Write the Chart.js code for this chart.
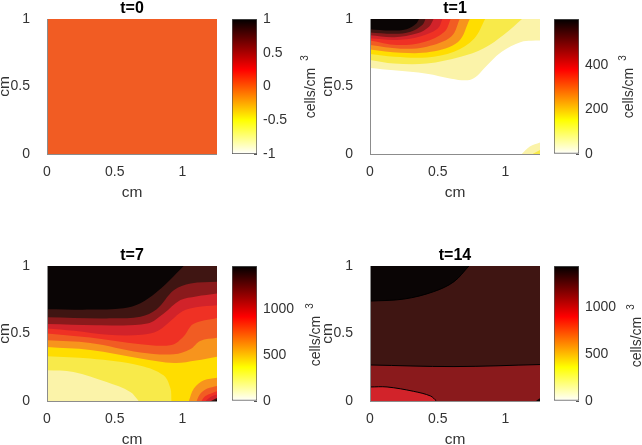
<!DOCTYPE html>
<html>
<head>
<meta charset="utf-8">
<script src="https://cdn.jsdelivr.net/npm/chart.js@4/dist/chart.umd.js"></script>
<style>
  html, body { margin: 0; padding: 0; background: #fff; overflow: hidden; }
  body { position: relative; width: 642px; height: 445px; }
  canvas { position: absolute; }
</style>
</head>
<body>
<script>
const xMax = 1.255;
const axisTicks = [0, 0.5, 1];

// contour levels, [x, y] in cm
const t0Flat = [[0, 0], [1.255, 0]];

const t1Pale = [[0, .637], [.176, .62], [.42, .595], [.6, .558], [.72, .546], [.78, .57], [.84, .632], [.97, .756], [1.115, .83], [1.19, .838], [1.255, .84]];
const t1Yellow = [[0, .696], [.176, .67], [.42, .67], [.67, .72], [.84, .783], [.99, .885], [1.122, 1]];
const t1Gold = [[0, .74], [.18, .72], [.42, .715], [.62, .757], [.77, .856], [.85, 1]];
const t1Orange = [[0, .775], [.226, .75], [.45, .757], [.65, .83], [.737, 1]];
const t1DarkOrange = [[0, .807], [.226, .78], [.42, .795], [.6, .87], [.663, 1]];
const t1Red = [[0, .84], [.2, .807], [.4, .83], [.55, .906], [.596, 1]];
const t1DarkRed = [[0, .857], [.2, .845], [.37, .87], [.5, .93], [.535, 1]];
const t1Maroon = [[0, .88], [.18, .865], [.35, .894], [.436, .943], [.47, 1]];
const t1Brown = [[0, .90], [.18, .89], [.3, .906], [.386, .955], [.41, 1]];
const t1Black = [[0, .925], [.15, .915], [.27, .925], [.34, .965], [.362, 1]];
const t1CornerPale = [[1.12, 0], [1.18, .055], [1.255, .085]];
const t1CornerYellow = [[1.2, 0], [1.255, .03]];

const t7Gold = [[0, 0], [1.255, 0]];
const t7Orange = [[0, .40], [.32, .378], [.69, .315], [.94, .281], [1.1, .30], [1.255, .328]];
const t7DarkOrange = [[0, .45], [.32, .43], [.69, .36], [.936, .346], [1.06, .385], [1.13, .445], [1.255, .468]];
const t7Red = [[0, .50], [.32, .47], [.69, .42], [.92, .415], [1.01, .48], [1.08, .57], [1.255, .615]];
const t7DarkRed = [[0, .537], [.2, .52], [.45, .49], [.7, .49], [.82, .52], [.92, .60], [1.0, .665], [1.1, .695], [1.255, .71]];
const t7Maroon = [[0, .57], [.39, .562], [.74, .574], [.862, .649], [.985, .748], [1.1, .775], [1.255, .797]];
const t7Brown = [[0, .62], [.44, .612], [.69, .625], [.81, .68], [.936, .82], [1.06, .87], [1.255, .883]];
const t7Black = [[0, .68], [.32, .677], [.565, .687], [.69, .725], [.81, .807], [.935, .925], [1.01, 1]];
const t7Yellow = [[0, .331], [.32, .314], [.69, .262], [.86, .19], [.912, .09], [.92, 0]];
const t7Pale = [[0, .227], [.195, .215], [.44, .14], [.615, .067], [.677, 0]];
const t7CornerOrange = [[1.047, 0], [1.084, .092], [1.158, .154], [1.255, .173]];
const t7CornerDarkOrange = [[1.104, 0], [1.133, .055], [1.183, .092], [1.255, .112]];
const t7CornerRed = [[1.139, 0], [1.17, .037], [1.255, .072]];
const t7CornerDarkRed = [[1.17, 0], [1.207, .03], [1.255, .048]];
const t7CornerBrown = [[1.21, 0], [1.255, .022]];
const t7CornerBlack = [[1.24, 0], [1.255, .012]];

const t14Base = [[0, 0], [1.255, 0]];
const t14Brown = [[0, .267], [.62, .255], [1.255, .27]];
const t14Black = [[0, .74], [.25, .755], [.47, .81], [.62, .884], [.73, 1]];
const t14Red = [[0, .104], [.126, .104], [.32, .072], [.447, .037], [.49, 0]];
const t14Corner = [[1.225, 0], [1.255, .02]];

// colorbar ranges and ticks
const t0Range = [-1, 1];
const t0Ticks = [-1, -0.5, 0, 0.5, 1];
const t1Range = [0, 606];
const t1Ticks = [0, 200, 400];
const t7Range = [0, 1474];
const t7Ticks = [0, 500, 1000];
const t14Range = [0, 1442];
const t14Ticks = [0, 500, 1000];

const colors = {
  pale: "#fbf3a9",
  yellow: "#f8ea4a",
  gold: "#ffdd00",
  orange: "#f7941d",
  darkOrange: "#f15c23",
  red: "#ef3124",
  darkRed: "#d2232a",
  maroon: "#8a1a1c",
  brown: "#3f1512",
  black: "#0a0505",
};
const textColor = "#333333";
const fontFamily = "'Liberation Sans', Arial, sans-serif";

// one filled region: side is "end" (above the line) or "start" (below it)
function region(points, color, side, line) {
  return {
    data: points.map((p) => ({ x: p[0], y: p[1] })),
    backgroundColor: color,
    fill: side,
    borderColor: "#000",
    borderWidth: line ? 1 : 0,
    pointRadius: 0,
    tension: 0.35,
  };
}

function addCanvas(left, top, width, height) {
  const canvas = document.createElement("canvas");
  canvas.width = width;
  canvas.height = height;
  canvas.style.left = left + "px";
  canvas.style.top = top + "px";
  canvas.style.width = width + "px";
  canvas.style.height = height + "px";
  document.body.appendChild(canvas);
  return canvas;
}

function contourPanel(plotLeft, plotTop, title, layers) {
  const plotWidth = 170;
  const plotHeight = 135;
  const canvas = addCanvas(plotLeft - 60, plotTop - 30, 60 + plotWidth, 30 + plotHeight + 56);
  new Chart(canvas, {
    type: "line",
    // first dataset is painted last, so reverse the paint order
    data: { datasets: layers.slice().reverse() },
    options: {
      responsive: false,
      animation: false,
      devicePixelRatio: 1,
      layout: { padding: 0 },
      plugins: {
        legend: { display: false },
        tooltip: { enabled: false },
        title: {
          display: true,
          text: title,
          color: "#000",
          font: { family: fontFamily, size: 16, weight: "bold" },
          padding: { top: 10.4, bottom: 0.4 },
          fullSize: false,
        },
      },
      scales: {
        x: {
          type: "linear",
          min: 0,
          max: xMax,
          afterBuildTicks: (s) => { s.ticks = axisTicks.map((v) => ({ value: v })); },
          afterFit: (s) => { s.height = 56; },
          grid: { display: false },
          border: { display: true, color: "#8c8c8c", width: 1, z: 1 },
          ticks: {
            color: textColor,
            padding: 2,
            autoSkip: false,
            maxRotation: 0,
            font: { family: fontFamily, size: 14 },
            callback: (v) => String(v),
          },
          title: {
            display: true,
            text: "cm",
            color: textColor,
            font: { family: fontFamily, size: 15.5 },
            padding: { top: 0, bottom: 7.7 },
          },
        },
        y: {
          type: "linear",
          min: 0,
          max: 1,
          afterBuildTicks: (s) => { s.ticks = axisTicks.map((v) => ({ value: v })); },
          afterFit: (s) => { s.width = 60; },
          grid: { display: false },
          border: { display: true, color: "#8c8c8c", width: 1, z: 1 },
          ticks: {
            color: textColor,
            padding: 9,
            autoSkip: false,
            font: { family: fontFamily, size: 14 },
            callback: (v) => String(v),
          },
          title: {
            display: true,
            text: "cm",
            color: textColor,
            font: { family: fontFamily, size: 15.5 },
            padding: { top: 8.7, bottom: 0 },
          },
        },
      },
    },
  });
}

// rotated colorbar label, the superscript sits apart from it like in the original
const unitLabel = {
  id: "unitLabel",
  afterDraw(chart, args, opts) {
    const ctx = chart.ctx;
    ctx.save();
    ctx.fillStyle = textColor;
    ctx.textAlign = "center";
    ctx.textBaseline = "middle";
    ctx.translate(opts.x, opts.y);
    ctx.rotate(-Math.PI / 2);
    ctx.font = "14px " + fontFamily;
    ctx.fillText("cells/cm", 0, 0);
    ctx.font = "10px " + fontFamily;
    ctx.fillText("3", 35, -6);
    ctx.restore();
  },
};

function colorbar(barLeft, plotTop, range, ticks, labelX, labelY) {
  const canvas = addCanvas(barLeft - 4, plotTop - 30, 92, 30 + 135 + 30);
  new Chart(canvas, {
    type: "bar",
    data: {
      labels: [""],
      datasets: [
        {
          data: [range],
          barPercentage: 1,
          categoryPercentage: 1,
          borderColor: "#555555",
          borderWidth: 1,
          borderSkipped: false,
          backgroundColor: (c) => {
            const area = c.chart.chartArea;
            if (!area) return "#fff";
            const g = c.chart.ctx.createLinearGradient(0, area.bottom, 0, area.top);
            g.addColorStop(0, "#ffffff");
            g.addColorStop(0.25, "#ffff00");
            g.addColorStop(0.625, "#ff0000");
            g.addColorStop(1, "#000000");
            return g;
          },
        },
      ],
    },
    plugins: [unitLabel],
    options: {
      responsive: false,
      animation: false,
      devicePixelRatio: 1,
      layout: { padding: { left: 4, top: 30, bottom: 30 } },
      plugins: {
        legend: { display: false },
        tooltip: { enabled: false },
        unitLabel: { x: labelX - (barLeft - 4), y: labelY - (plotTop - 30) },
      },
      scales: {
        x: { display: false },
        y: {
          position: "right",
          min: range[0],
          max: range[1],
          afterBuildTicks: (s) => { s.ticks = ticks.map((v) => ({ value: v })); },
          afterFit: (s) => { s.width = 63; },
          border: { display: false },
          grid: { drawOnChartArea: false, tickLength: -3, tickColor: "#555555" },
          ticks: {
            color: textColor,
            padding: 9,
            autoSkip: false,
            font: { family: fontFamily, size: 14 },
            callback: (v) => String(v),
          },
        },
      },
    },
  });
}

contourPanel(47, 19, "t=0", [region(t0Flat, colors.darkOrange, "end")]);
colorbar(232, 19, t0Range, t0Ticks, 311, 93);

contourPanel(370, 19, "t=1", [
  region(t1Pale, colors.pale, "end"),
  region(t1Yellow, colors.yellow, "end"),
  region(t1Gold, colors.gold, "end"),
  region(t1Orange, colors.orange, "end"),
  region(t1DarkOrange, colors.darkOrange, "end"),
  region(t1Red, colors.red, "end"),
  region(t1DarkRed, colors.darkRed, "end"),
  region(t1Maroon, colors.maroon, "end"),
  region(t1Brown, colors.brown, "end"),
  region(t1Black, colors.black, "end"),
  region(t1CornerPale, colors.pale, "start"),
  region(t1CornerYellow, colors.yellow, "start"),
]);
colorbar(554, 19, t1Range, t1Ticks, 629, 93);

contourPanel(47, 266, "t=7", [
  region(t7Gold, colors.gold, "end"),
  region(t7Orange, colors.orange, "end"),
  region(t7DarkOrange, colors.darkOrange, "end"),
  region(t7Red, colors.red, "end"),
  region(t7DarkRed, colors.darkRed, "end"),
  region(t7Maroon, colors.maroon, "end"),
  region(t7Brown, colors.brown, "end"),
  region(t7Black, colors.black, "end"),
  region(t7Yellow, colors.yellow, "start"),
  region(t7Pale, colors.pale, "start"),
  region(t7CornerOrange, colors.orange, "start"),
  region(t7CornerDarkOrange, colors.darkOrange, "start"),
  region(t7CornerRed, colors.red, "start"),
  region(t7CornerDarkRed, colors.darkRed, "start"),
  region(t7CornerBrown, colors.brown, "start"),
  region(t7CornerBlack, colors.black, "start"),
]);
colorbar(232, 266, t7Range, t7Ticks, 316, 341);

contourPanel(370, 266, "t=14", [
  region(t14Base, colors.maroon, "end"),
  region(t14Brown, colors.brown, "end", true),
  region(t14Black, colors.black, "end", true),
  region(t14Red, colors.darkRed, "start", true),
  region(t14Corner, colors.black, "start"),
]);
colorbar(554, 266, t14Range, t14Ticks, 637, 342);
</script>
</body>
</html>
